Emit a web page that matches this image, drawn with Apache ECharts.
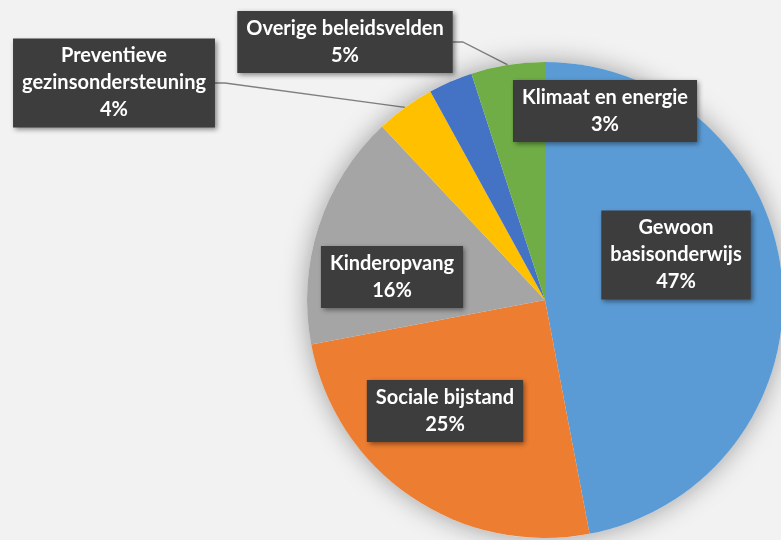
<!DOCTYPE html>
<html>
<head>
<meta charset="utf-8">
<script src="https://cdn.jsdelivr.net/npm/echarts@6/dist/echarts.min.js"></script>
<style>
  html, body { margin: 0; padding: 0; background: #f2f2f2; }
  #chart { width: 781px; height: 540px; }
</style>
</head>
<body>
<div id="chart"></div>
<script>
// categorieën en aandelen (%)
const categories = [
  'Gewoon\nbasisonderwijs',
  'Sociale bijstand',
  'Kinderopvang',
  'Preventieve\ngezinsondersteuning',
  'Klimaat en energie',
  'Overige beleidsvelden'
]
const values = [47, 25, 16, 4, 3, 5]
const colors = ['#5b9bd5', '#ed7d31', '#a5a5a5', '#ffc000', '#4472c4', '#70ad47']
const withLine = [false, false, false, true, true, true]

// plek van de labels (midden van het kader)
const labelPos = [
  [676, 255],
  [445, 411],
  [392, 277],
  [114, 83],
  [605, 111],
  [345, 42]
]

const chart = echarts.init(document.getElementById('chart'))

chart.setOption({
  backgroundColor: '#f2f2f2',
  animation: false,
  series: [
    // schaduw onder de taart
    {
      type: 'pie',
      silent: true,
      center: [545, 300],
      radius: 238,
      label: { show: false },
      labelLine: { show: false },
      itemStyle: {
        color: '#f2f2f2',
        shadowBlur: 26,
        shadowColor: 'rgba(0, 0, 0, 0.35)'
      },
      data: [{ value: values.reduce((a, b) => a + b, 0), name: 'schaduw' }]
    },
    {
      type: 'pie',
      center: [545, 300],
      radius: 238,
      startAngle: 90,
      clockwise: true,
      data: categories.map((name, i) => ({
        name,
        value: values[i],
        itemStyle: { color: colors[i] },
        label: { position: withLine[i] ? 'outside' : 'inside' },
        labelLine: { show: withLine[i] }
      })),
      label: {
        formatter: '{b}\n{c}%',
        color: '#fff',
        fontFamily: 'Lato',
        fontWeight: 'bold',
        fontSize: 20,
        lineHeight: 27,
        align: 'center',
        backgroundColor: '#3d3d3d',
        padding: [5, 9, 3, 9],
        shadowBlur: 5,
        shadowOffsetX: 2,
        shadowOffsetY: 2,
        shadowColor: 'rgba(0, 0, 0, 0.45)'
      },
      labelLine: {
        lineStyle: { color: '#7f7f7f', width: 1.3 },
        length: 10,
        length2: 10
      },
      labelLayout: function (params) {
        const p = labelPos[params.dataIndex]
        return {
          x: p[0],
          y: p[1],
          align: 'center',
          verticalAlign: 'middle'
        }
      }
    }
  ]
})
</script>
</body>
</html>
